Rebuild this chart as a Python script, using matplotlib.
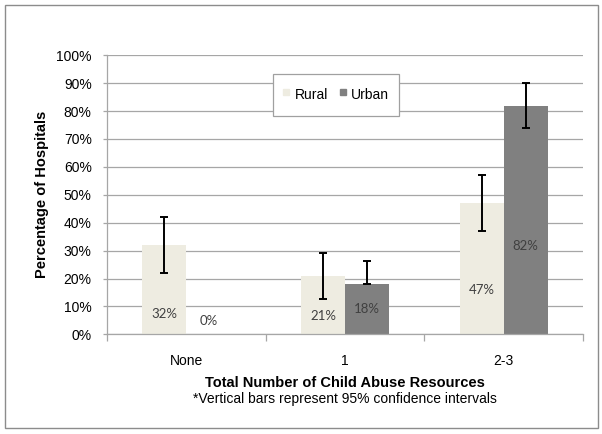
import numpy as np
import matplotlib
matplotlib.use("Agg")
import matplotlib.pyplot as plt
from matplotlib.lines import Line2D
from matplotlib.patches import Rectangle

# ---- data ----
categories = ["None", "1", "2-3"]
series_names = ["Rural", "Urban"]
rural = [32, 21, 47]
urban = [0, 18, 82]
rural_ci_low = [22, 12.7, 37]
rural_ci_high = [42, 29.3, 57]
urban_ci_low = [np.nan, 18, 74]
urban_ci_high = [np.nan, 26.3, 90]
yticks = [0, 10, 20, 30, 40, 50, 60, 70, 80, 90, 100]

# label vertical placement (as in the reference)
rural_label_y = [7.2, 6.6, 15.9]
urban_label_y = [4.8, 9.0, 31.8]

rural_color = "#EEECE1"
urban_color = "#808080"
grid_color = "#A6A6A6"

fig = plt.figure(figsize=(6.02, 4.34), dpi=100)
ax = fig.add_axes([107 / 602, 1 - 334.3 / 434, 476 / 602, 279 / 434])

x = np.arange(len(categories))
w = 0.277

ax.bar(x - w / 2, rural, w, color=rural_color, zorder=2)
ax.bar(x + w / 2, urban, w, color=urban_color, zorder=2)

def err(vals, lo, hi):
    v = np.array(vals, float)
    return [v - np.array(lo, float), np.array(hi, float) - v]

ax.errorbar(x - w / 2, rural, yerr=err(rural, rural_ci_low, rural_ci_high),
            fmt="none", ecolor="black", elinewidth=1.4, capsize=3, capthick=1.4, zorder=3)
ax.errorbar(x + w / 2, urban, yerr=err(urban, urban_ci_low, urban_ci_high),
            fmt="none", ecolor="black", elinewidth=1.4, capsize=3, capthick=1.4, zorder=3)

for i in range(len(categories)):
    ax.text(x[i] - w / 2, rural_label_y[i], f"{rural[i]}%", ha="center", va="center",
            fontsize=9.5, family="Lato", color="#404040", zorder=4)
    ax.text(x[i] + w / 2, urban_label_y[i], f"{urban[i]}%", ha="center", va="center",
            fontsize=9.5, family="Lato", color="#404040", zorder=4)

ax.set_xlim(-0.5, len(categories) - 0.5)
ax.set_ylim(0, 100)
ax.set_yticks(yticks)
ax.set_yticklabels([f"{t}%" for t in yticks], family="Liberation Sans", fontsize=10)
ax.yaxis.grid(True, color=grid_color, linewidth=0.9, zorder=0)
ax.set_axisbelow(True)

ax.set_xticks(x)
ax.set_xticklabels(categories, family="Liberation Sans", fontsize=10)
ax.set_xticks(np.arange(-0.5, len(categories), 1.0), minor=True)
ax.tick_params(axis="x", which="major", length=0, pad=14)
ax.tick_params(axis="x", which="minor", length=5, color=grid_color, width=0.9)
ax.tick_params(axis="y", length=3, color=grid_color, width=0.9, pad=8)

for s in ["top", "right"]:
    ax.spines[s].set_visible(False)
for s in ["left", "bottom"]:
    ax.spines[s].set_color(grid_color)
    ax.spines[s].set_linewidth(0.9)

ax.set_ylabel("Percentage of Hospitals", family="Liberation Sans", fontsize=10.5,
              fontweight="bold", labelpad=5)

cx = (107 + 583) / 2 / 602
fig.text(cx, 1 - 383 / 434, "Total Number of Child Abuse Resources", ha="center", va="center",
         family="Liberation Sans", fontsize=10.5, fontweight="bold")
fig.text(cx, 1 - 399 / 434, "*Vertical bars represent 95% confidence intervals", ha="center",
         va="center", family="Liberation Sans", fontsize=10)

handles = [Line2D([], [], marker="s", markersize=4.5, color=c, linestyle="none")
           for c in (rural_color, urban_color)]
leg = ax.legend(handles, series_names, ncol=2, loc="center",
                bbox_to_anchor=((336 - 107) / 476, (334.3 - 94.7) / 279),
                prop={"family": "Liberation Sans", "size": 10},
                frameon=True, fancybox=False, edgecolor="#A0A0A0", framealpha=1,
                borderpad=0.75, handlelength=0.5, handleheight=2.0,
                handletextpad=0.35, columnspacing=0.8, borderaxespad=0)
leg.get_frame().set_linewidth(0.9)

fig.patches.append(Rectangle((4.5 / 602, 1 - 428 / 434), 593 / 602, 423 / 434,
                             transform=fig.transFigure, fill=False,
                             edgecolor="#8C8C8C", linewidth=1.0))

fig.savefig("out.png", dpi=100)
